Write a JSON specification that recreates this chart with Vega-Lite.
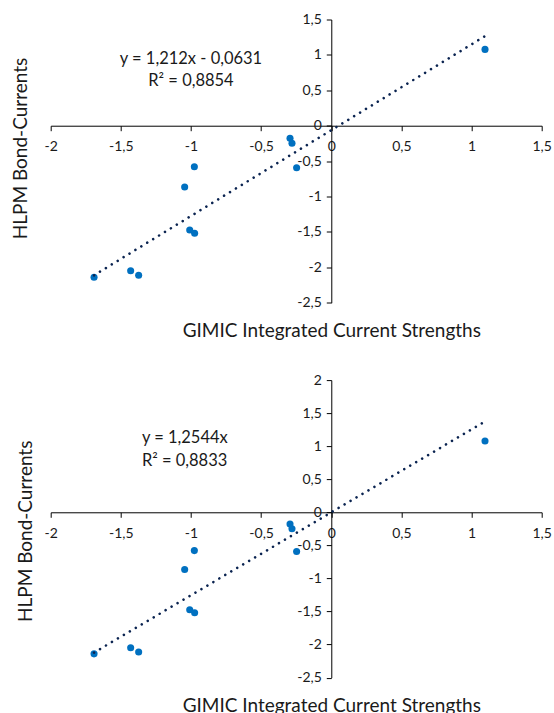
{
  "$schema": "https://vega.github.io/schema/vega-lite/v6.json",
  "autosize": {"type": "pad"},
  "padding": {"left": 10.7, "top": 12.5, "right": 0, "bottom": 0},
  "background": "white",
  "datasets": {
    "points": [
      {"x": -1.691, "y": -2.141},
      {"x": -1.430, "y": -2.048},
      {"x": -1.373, "y": -2.113},
      {"x": -1.045, "y": -0.866},
      {"x": -0.976, "y": -0.579},
      {"x": -1.009, "y": -1.473},
      {"x": -0.974, "y": -1.520},
      {"x": -0.294, "y": -0.178},
      {"x": -0.280, "y": -0.249},
      {"x": -0.247, "y": -0.593},
      {"x": 1.096, "y": 1.078}
    ],
    "trend1": [{"x": -1.691, "y": -2.1126}, {"x": 1.096, "y": 1.2653}],
    "trend2": [{"x": -1.691, "y": -2.1212}, {"x": 1.096, "y": 1.3748}],
    "eq1": [
      {"x": -1.0, "y": 0.871, "label": "y = 1,212x - 0,0631"},
      {"x": -1.0, "y": 0.554, "label": "R² = 0,8854"}
    ],
    "eq2": [
      {"x": -1.35, "y": 1.044, "label": "y = 1,2544x"},
      {"x": -1.35, "y": 0.703, "label": "R² = 0,8833"}
    ]
  },
  "bounds": "flush",
  "spacing": 76.6,
  "vconcat": [
    {
      "width": 491,
      "height": 283.2,
      "encoding": {
        "x": {
          "field": "x", "type": "quantitative",
          "scale": {"domain": [-2, 1.5], "nice": false, "zero": false},
          "axis": {
            "orient": "bottom", "offset": -177,
            "values": [-2, -1.5, -1, -0.5, 0, 0.5, 1, 1.5],
            "labelExpr": "replace(toString(datum.value), '.', ',')",
            "title": "GIMIC Integrated Current Strengths",
            "titleX": 280.6, "titleY": 210.8, "titleAlign": "center", "titleBaseline": "alphabetic"
          }
        },
        "y": {
          "field": "y", "type": "quantitative",
          "scale": {"domain": [-2.5, 1.5], "nice": false, "zero": false},
          "axis": {
            "orient": "left", "offset": -280.6,
            "values": [-2.5, -2, -1.5, -1, -0.5, 0, 0.5, 1, 1.5],
            "labelExpr": "replace(toString(datum.value), '.', ',')",
            "title": "HLPM Bond-Currents",
            "titleX": -304.8, "titleY": 128.5, "titleAlign": "center", "titleBaseline": "alphabetic"
          }
        }
      },
      "layer": [
        {"data": {"name": "points"}, "mark": {"type": "circle", "color": "#0070C0", "size": 50, "opacity": 1}},
        {"data": {"name": "trend1"}, "mark": {"type": "line", "color": "#0a2350", "strokeWidth": 2.6, "strokeDash": [0.01, 6.92], "strokeCap": "round"}},
        {"data": {"name": "eq1"}, "mark": {"type": "text", "font": "Lato", "fontSize": 16.5, "align": "center", "baseline": "alphabetic", "color": "#1a1a1a"}, "encoding": {"text": {"field": "label", "type": "nominal"}}}
      ]
    },
    {
      "width": 491,
      "height": 297.5,
      "encoding": {
        "x": {
          "field": "x", "type": "quantitative",
          "scale": {"domain": [-2, 1.5], "nice": false, "zero": false},
          "axis": {
            "orient": "bottom", "offset": -165.3,
            "values": [-2, -1.5, -1, -0.5, 0, 0.5, 1, 1.5],
            "labelExpr": "replace(toString(datum.value), '.', ',')",
            "title": "GIMIC Integrated Current Strengths",
            "titleX": 280.6, "titleY": 199.5, "titleAlign": "center", "titleBaseline": "alphabetic"
          }
        },
        "y": {
          "field": "y", "type": "quantitative",
          "scale": {"domain": [-2.5, 2], "nice": false, "zero": false},
          "axis": {
            "orient": "left", "offset": -280.6,
            "values": [-2.5, -2, -1.5, -1, -0.5, 0, 0.5, 1, 1.5, 2],
            "labelExpr": "replace(toString(datum.value), '.', ',')",
            "title": "HLPM Bond-Currents",
            "titleX": -299.3, "titleY": 150.7, "titleAlign": "center", "titleBaseline": "alphabetic"
          }
        }
      },
      "layer": [
        {"data": {"name": "points"}, "mark": {"type": "circle", "color": "#0070C0", "size": 50, "opacity": 1}},
        {"data": {"name": "trend2"}, "mark": {"type": "line", "color": "#0a2350", "strokeWidth": 2.6, "strokeDash": [0.01, 6.92], "strokeCap": "round"}},
        {"data": {"name": "eq2"}, "mark": {"type": "text", "font": "Lato", "fontSize": 16.5, "align": "left", "baseline": "alphabetic", "color": "#1a1a1a"}, "encoding": {"text": {"field": "label", "type": "nominal"}}}
      ]
    }
  ],
  "config": {
    "view": {"stroke": null},
    "axis": {
      "grid": false,
      "domainColor": "#000000", "domainWidth": 1,
      "tickColor": "#000000", "tickWidth": 1, "tickSize": 5,
      "labelFont": "Lato", "labelFontSize": 14, "labelColor": "#1a1a1a",
      "labelOverlap": false, "labelFlush": false,
      "titleFont": "Lato", "titleFontSize": 19, "titleFontWeight": "normal", "titleColor": "#1a1a1a"
    },
    "axisX": {"labelPadding": 9},
    "axisY": {"labelPadding": 5}
  }
}
